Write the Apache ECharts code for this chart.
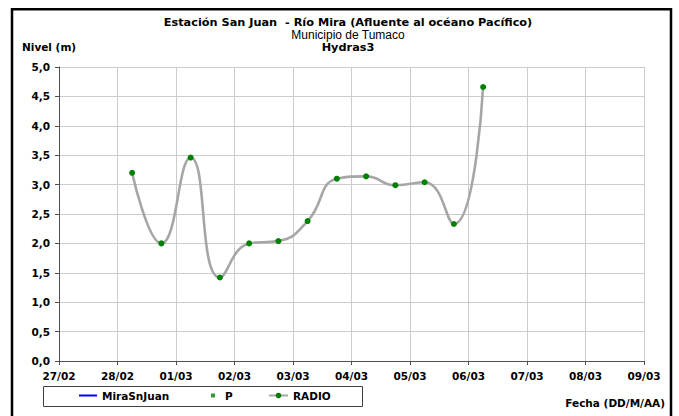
<!DOCTYPE html>
<html>
<head>
<meta charset="utf-8">
<script src="https://cdn.jsdelivr.net/npm/echarts@6/dist/echarts.min.js"></script>
<style>
html,body{margin:0;padding:0;background:#fff;}
#c{width:679px;height:416px;}
</style>
</head>
<body>
<div id="c"></div>
<script>
// ---- data ----
const titleLines = ['Estación San Juan  - Río Mira (Afluente al océano Pacífico)', 'Municipio de Tumaco', 'Hydras3'];
const yAxisTitle = 'Nivel (m)';
const xAxisTitle = 'Fecha (DD/M/AA)';
const seriesNames = ['MiraSnJuan', 'P', 'RADIO'];
const xStart = '2013-02-27 00:00';
const xEnd = '2013-03-09 00:00';
const xTickLabels = ['27/02','28/02','01/03','02/03','03/03','04/03','05/03','06/03','07/03','08/03','09/03'];
const yTickLabels = ['0,0','0,5','1,0','1,5','2,0','2,5','3,0','3,5','4,0','4,5','5,0'];
const radioTimes = ['2013-02-28 06:00','2013-02-28 18:00','2013-03-01 06:00','2013-03-01 18:00','2013-03-02 06:00','2013-03-02 18:00','2013-03-03 06:00','2013-03-03 18:00','2013-03-04 06:00','2013-03-04 18:00','2013-03-05 06:00','2013-03-05 18:00','2013-03-06 06:00'];
const radioValues = [3.20, 2.00, 3.46, 1.42, 2.00, 2.04, 2.38, 3.10, 3.14, 2.99, 3.04, 2.33, 4.66];
const miraValues = [];
const pValues = [];

// ---- helpers ----
function toUTC(s){
  const parts = s.split(' ');
  const d = parts[0].split('-').map(Number);
  const t = parts[1].split(':').map(Number);
  return Date.UTC(d[0], d[1]-1, d[2], t[0], t[1]);
}
const DAY = 86400000;
const xMin = toUTC(xStart), xMax = toUTC(xEnd);
const radioData = radioTimes.map((t,i)=>[toUTC(t), radioValues[i]]);

const FONT = 'DejaVu Sans';
const lblStyle = {fontFamily: FONT, fontWeight: 'bold', fontSize: 10.5, color: '#000'};

const chart = echarts.init(document.getElementById('c'), null, {renderer: 'svg'});
chart.setOption({
  animation: false,
  backgroundColor: '#fff',
  grid: {left: 59, right: 35, top: 67, bottom: 55, containLabel: false},
  xAxis: {
    type: 'value', min: xMin, max: xMax, interval: DAY,
    axisLine: {lineStyle: {color: '#505050', width: 1}},
    axisTick: {show: true, length: 4, lineStyle: {color: '#505050'}},
    splitLine: {show: true, lineStyle: {color: '#cccccc', width: 1}},
    axisLabel: Object.assign({margin: 9, formatter: v => xTickLabels[Math.round((v - xMin)/DAY)]}, lblStyle)
  },
  yAxis: {
    type: 'value', min: 0, max: 5, interval: 0.5,
    axisLine: {show: true, lineStyle: {color: '#505050', width: 1}},
    axisTick: {show: true, length: 4, lineStyle: {color: '#505050'}},
    splitLine: {show: true, lineStyle: {color: '#cccccc', width: 1}},
    axisLabel: Object.assign({margin: 9, formatter: v => yTickLabels[Math.round(v/0.5)]}, lblStyle)
  },
  legend: [
    {left: 79, top: 390, padding: 0, itemWidth: 18, itemHeight: 2, textStyle: lblStyle,
     data: [{name: seriesNames[0], icon: 'rect'}]},
    {left: 211, top: 390, padding: 0, itemWidth: 4, itemHeight: 4, textStyle: Object.assign({padding: [0,0,0,5]}, lblStyle),
     data: [{name: seriesNames[1], icon: 'rect'}]},
    {left: 268, top: 390, padding: 0, itemWidth: 19, itemHeight: 7, textStyle: lblStyle,
     data: [{name: seriesNames[2]}]}
  ],
  graphic: [
    {type: 'rect', silent: true, z: -1, shape: {x: 12, y: 9.3, width: 659, height: 420},
     style: {fill: 'none', stroke: '#000', lineWidth: 2.5}},
    {type: 'rect', silent: true, z: -1, shape: {x: 43.5, y: 386.5, width: 319, height: 20},
     style: {fill: '#fff', stroke: '#404040', lineWidth: 1}},
    {type: 'text', x: 348, y: 22.5, style: {text: titleLines[0], fontFamily: FONT, fontWeight: 'bold', fontSize: 11.3, fill: '#000', textAlign: 'center', textVerticalAlign: 'middle'}},
    {type: 'text', x: 348, y: 35, style: {text: titleLines[1], fontFamily: 'Liberation Sans', fontSize: 12, fill: '#000', textAlign: 'center', textVerticalAlign: 'middle'}},
    {type: 'text', x: 348, y: 47, style: {text: titleLines[2], fontFamily: FONT, fontWeight: 'bold', fontSize: 11.3, fill: '#000', textAlign: 'center', textVerticalAlign: 'middle'}},
    {type: 'text', x: 22, y: 46.5, style: {text: yAxisTitle, fontFamily: FONT, fontWeight: 'bold', fontSize: 10.5, fill: '#000', textAlign: 'left', textVerticalAlign: 'middle'}},
    {type: 'text', x: 665, y: 403, style: {text: xAxisTitle, fontFamily: FONT, fontWeight: 'bold', fontSize: 10.5, fill: '#000', textAlign: 'right', textVerticalAlign: 'middle'}}
  ],
  series: [
    {name: seriesNames[0], type: 'line', data: miraValues, symbol: 'none',
     lineStyle: {color: '#0000ff', width: 2}, itemStyle: {color: '#0000ff'}},
    {name: seriesNames[1], type: 'scatter', data: pValues, symbol: 'rect', symbolSize: 4,
     itemStyle: {color: '#008000'}},
    {name: seriesNames[2], type: 'line', data: radioData, smooth: 0.5, symbol: 'circle', symbolSize: 6,
     lineStyle: {color: '#a6a6a6', width: 2.6}, itemStyle: {color: '#008000'}, z: 3}
  ]
});
</script>
</body>
</html>
